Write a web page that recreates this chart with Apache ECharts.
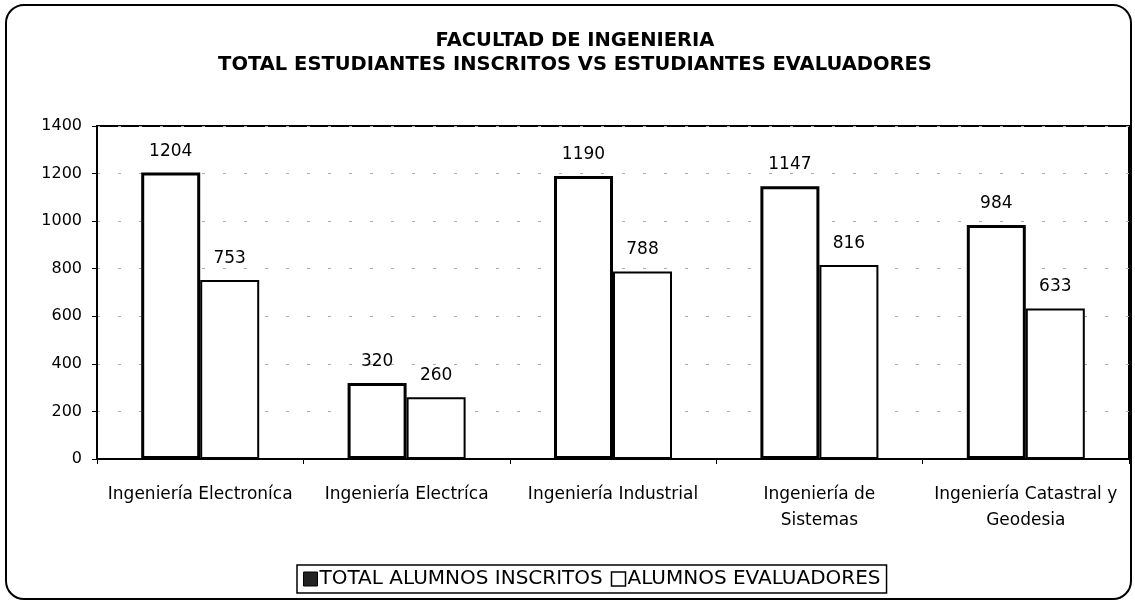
<!DOCTYPE html>
<html lang="es">

<head>
    <meta charset="UTF-8">
    <title>Facultad de Ingenieria</title>
    <script src="https://cdn.jsdelivr.net/npm/echarts@6/dist/echarts.min.js"></script>
    <style>
        html, body { margin: 0; padding: 0; background: #fff; }
        #chart { width: 1135px; height: 602px; }
    </style>
</head>

<body>
    <div id="chart"></div>
    <script>
        var categories = [
            'Ingeniería Electroníca',
            'Ingeniería Electríca',
            'Ingeniería Industrial',
            'Ingeniería de\nSistemas',
            'Ingeniería Catastral y\nGeodesia'
        ];
        var inscritos = [1204, 320, 1190, 1147, 984];
        var evaluadores = [753, 260, 788, 816, 633];
        var yTicks = [0, 200, 400, 600, 800, 1000, 1200, 1400];

        var font = '"DejaVu Sans", sans-serif';
        var myChart = echarts.init(document.getElementById('chart'));

        var option = {
            backgroundColor: '#fff',
            animation: false,
            textStyle: { fontFamily: font, color: '#000' },
            graphic: [{
                type: 'rect',
                shape: { x: 6, y: 5, width: 1125, height: 594, r: 18 },
                style: { fill: 'none', stroke: '#000', lineWidth: 2 },
                z: -1
            }],
            title: {
                text: 'FACULTAD DE INGENIERIA\nTOTAL ESTUDIANTES INSCRITOS VS ESTUDIANTES EVALUADORES',
                left: 570,
                textAlign: 'center',
                top: 24,
                textStyle: { fontSize: 19.5, fontWeight: 'bold', lineHeight: 24, color: '#000', fontFamily: font }
            },
            legend: {
                bottom: 9,
                left: 297,
                itemWidth: 14,
                itemHeight: 14,
                itemGap: 8,
                padding: [4, 6],
                borderColor: '#000',
                borderWidth: 1.5,
                textStyle: { fontSize: 20, color: '#000', padding: [0, 0, 0, -3] },
                data: [
                    { name: 'TOTAL ALUMNOS INSCRITOS', icon: 'rect', itemStyle: { color: '#222', borderColor: '#000', borderWidth: 1 } },
                    { name: 'ALUMNOS EVALUADORES', icon: 'rect', itemStyle: { color: '#fff', borderColor: '#000', borderWidth: 1.5 } }
                ]
            },
            grid: {
                left: 97, right: 6, top: 126, bottom: 143,
                show: true, borderColor: '#000', borderWidth: 2
            },
            xAxis: {
                type: 'category',
                data: categories,
                axisLine: { lineStyle: { color: '#000', width: 2 } },
                axisTick: { show: true, length: 5, lineStyle: { color: '#000' } },
                axisLabel: { interval: 0, fontSize: 17, color: '#000', margin: 23, lineHeight: 26 }
            },
            yAxis: {
                type: 'value',
                min: 0,
                max: yTicks[yTicks.length - 1],
                interval: 200,
                axisLine: { show: true, lineStyle: { color: '#000', width: 2 } },
                axisTick: { show: true, length: 5, lineStyle: { color: '#000' } },
                axisLabel: { fontSize: 16, color: '#000', margin: 15, formatter: function (v) { return String(v); } },
                splitLine: { show: true, lineStyle: { color: '#aaa', type: [3, 18], width: 1 } }
            },
            series: [{
                name: 'TOTAL ALUMNOS INSCRITOS',
                type: 'bar',
                data: inscritos,
                barWidth: 59,
                barGap: '0%',
                itemStyle: { color: '#fff', borderColor: '#000', borderWidth: 3 },
                label: { show: true, position: 'top', distance: 13, fontSize: 17, color: '#000', fontFamily: font }
            }, {
                name: 'ALUMNOS EVALUADORES',
                type: 'bar',
                data: evaluadores,
                barWidth: 59,
                barGap: '0%',
                itemStyle: { color: '#fff', borderColor: '#000', borderWidth: 2 },
                label: { show: true, position: 'top', distance: 13, fontSize: 17, color: '#000', fontFamily: font }
            }]
        };

        myChart.setOption(option);
    </script>
</body>

</html>
